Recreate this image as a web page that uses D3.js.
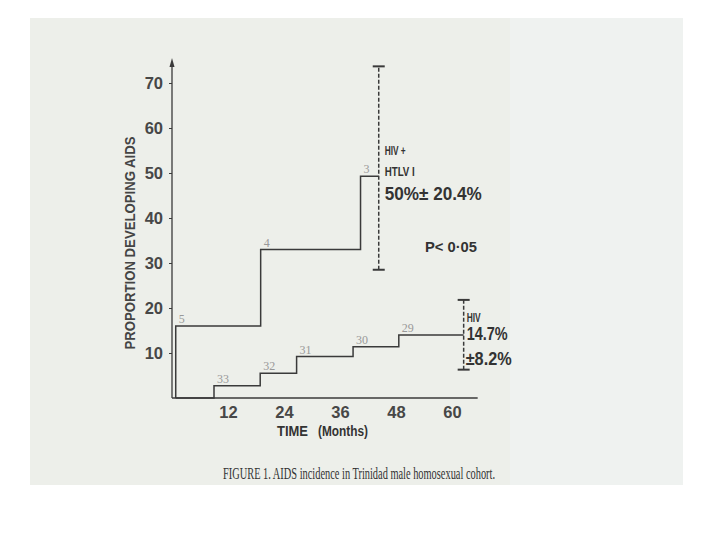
<!DOCTYPE html>
<html>
<head>
<meta charset="utf-8">
<script src="https://cdn.jsdelivr.net/npm/d3@7"></script>
<style>
  body { margin: 0; background: #fff; }
  svg { display: block; }
</style>
</head>
<body>
<div class="chart"></div>
<script>
// HIV + HTLV I group (Kaplan-Meier steps)
var dualTimes = [0.8, 19, 40.4];
var dualValues = [16, 33, 49.3];
var dualAtRisk = ["5", "4", "3"];
var dualEnd = 44.3;
var dualCI = [28.5, 73.7];

// HIV only group
var hivTimes = [9, 18.9, 26.7, 38.8, 48.6];
var hivValues = [2.7, 5.5, 9.2, 11.4, 14.0];
var hivAtRisk = ["33", "32", "31", "30", "29"];
var hivEnd = 62.5;
var hivCI = [6.3, 21.8];

var xTicks = [12, 24, 36, 48, 60];
var yTicks = [10, 20, 30, 40, 50, 60, 70];

var svg = d3.select(".chart").append("svg")
  .attr("width", 720)
  .attr("height", 540);

// scanned paper
svg.append("rect").attr("x", 30).attr("y", 18).attr("width", 653).attr("height", 467).attr("fill", "#edefea");
svg.append("rect").attr("x", 510).attr("y", 18).attr("width", 173).attr("height", 467).attr("fill", "#eff2f0");

var x = d3.scaleLinear().domain([0, 60]).range([172, 452]);
var y = d3.scaleLinear().domain([0, 70]).range([398, 83]);

var ink = "#3a3a3a";
var sans = "'Liberation Sans', Arial, sans-serif";

// axes
var xAxis = svg.append("g")
  .attr("transform", `translate(0, ${y(0)})`)
  .call(d3.axisBottom(x).tickValues(xTicks).tickSize(0).tickPadding(8));
xAxis.select(".domain").remove();
xAxis.append("line").attr("x1", x(0)).attr("x2", x(65.5)).attr("stroke", ink).attr("stroke-width", 1.5);
xAxis.selectAll("text").attr("font-family", sans).attr("font-size", 16.5).attr("font-weight", "bold").attr("fill", "#474747");

var yAxis = svg.append("g")
  .attr("transform", `translate(${x(0)}, 0)`)
  .call(d3.axisLeft(y).tickValues(yTicks).tickSize(3).tickPadding(6));
yAxis.select(".domain").remove();
yAxis.selectAll("line").attr("stroke", ink);
yAxis.append("line").attr("y1", y(0)).attr("y2", 62).attr("stroke", ink).attr("stroke-width", 1.3);
yAxis.append("path").attr("d", "M0,58 L-2.5,67 L2.5,67 Z").attr("fill", ink);
yAxis.selectAll("text").attr("font-family", sans).attr("font-size", 16.5).attr("font-weight", "bold").attr("fill", "#474747");

// step curves
var line = d3.line().x(d => x(d[0])).y(d => y(d[1])).curve(d3.curveStepAfter);

var dualPts = [[dualTimes[0], 0]].concat(dualTimes.map((t, i) => [t, dualValues[i]]));
dualPts.push([dualEnd, dualValues[dualValues.length - 1]]);
var hivPts = [[dualTimes[0], 0]].concat(hivTimes.map((t, i) => [t, hivValues[i]]));
hivPts.push([hivEnd, hivValues[hivValues.length - 1]]);

svg.append("path").attr("d", line(dualPts)).attr("fill", "none").attr("stroke", ink).attr("stroke-width", 1.5);
svg.append("path").attr("d", line(hivPts)).attr("fill", "none").attr("stroke", ink).attr("stroke-width", 1.5);

// numbers at risk
function riskLabels(times, values, labels) {
  svg.selectAll(null).data(labels).enter().append("text")
    .attr("x", (d, i) => x(times[i]) + 3)
    .attr("y", (d, i) => y(values[i]) - 3)
    .attr("font-family", "'Liberation Serif', serif")
    .attr("font-size", 12)
    .attr("fill", "#999")
    .text(d => d);
}
riskLabels(dualTimes, dualValues, dualAtRisk);
riskLabels(hivTimes, hivValues, hivAtRisk);

// error bars
function errorBar(t, ci) {
  var g = svg.append("g").attr("stroke", ink);
  g.append("line").attr("x1", x(t)).attr("x2", x(t)).attr("y1", y(ci[0])).attr("y2", y(ci[1]))
    .attr("stroke-width", 1.5).attr("stroke-dasharray", "4,2");
  g.selectAll(null).data(ci).enter().append("line")
    .attr("x1", x(t) - 6).attr("x2", x(t) + 6)
    .attr("y1", d => y(d)).attr("y2", d => y(d))
    .attr("stroke-width", 2);
}
errorBar(dualEnd, dualCI);
errorBar(hivEnd, hivCI);

// annotations
function note(txt, px, py, size, len) {
  var t = svg.append("text").attr("x", px).attr("y", py)
    .attr("font-family", sans).attr("font-size", size).attr("font-weight", "bold")
    .attr("fill", "#333").text(txt);
  if (len) t.attr("textLength", len).attr("lengthAdjust", "spacingAndGlyphs");
}
var dx = x(dualEnd) + 6;
note("HIV +", dx, 155, 12.5, 21);
note("HTLV I", dx, 176, 12.5, 30);
note("50%\u00b1 20.4%", dx, 200, 19, 97);
note("P< 0\u00b705", 425, 252, 14, 52);
var hx = x(hivEnd) + 3;
note("HIV", hx, 322, 13, 14);
note("14.7%", hx, 340, 18, 41);
note("\u00b18.2%", hx - 1, 365, 18, 46);

// axis titles
svg.append("text")
  .attr("transform", `translate(135, ${243}) rotate(-90)`)
  .attr("text-anchor", "middle")
  .attr("font-family", sans).attr("font-size", 14).attr("font-weight", "bold")
  .attr("fill", "#444")
  .attr("textLength", 213).attr("lengthAdjust", "spacingAndGlyphs")
  .text("PROPORTION DEVELOPING AIDS");

note("TIME", 277, 436, 14, 31);
note("(Months)", 318, 436, 14, 50);

svg.append("text")
  .attr("x", 223).attr("y", 479)
  .attr("font-family", "'Liberation Serif', 'Times New Roman', serif").attr("font-size", 16)
  .attr("fill", "#333")
  .attr("textLength", 272).attr("lengthAdjust", "spacingAndGlyphs")
  .text("FIGURE 1.  AIDS incidence in Trinidad male homosexual cohort.");
</script>
</body>
</html>
